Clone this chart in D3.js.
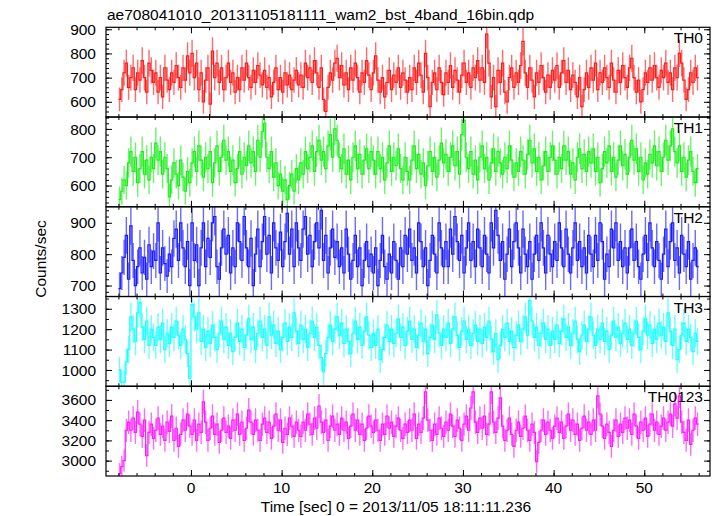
<!DOCTYPE html>
<html><head><meta charset="utf-8">
<script src="https://cdn.jsdelivr.net/npm/d3@7"></script>
<style>body{margin:0;background:#fff}svg{display:block}text{font-family:"Liberation Sans",Arial,sans-serif;fill:#000}</style>
</head><body><svg id="c" width="717" height="516"></svg>
<script>
const title = "ae708041010_20131105181111_wam2_bst_4band_16bin.qdp";
const xLabel = "Time [sec] 0 = 2013/11/05 18:11:11.236";
const yLabel = "Counts/sec";
const panelNames = ["TH0","TH1","TH2","TH3","TH0123"];
const panelColors = ["#ff1a1a","#1aee1a","#1a1aff","#1affff","#ff1aff"];
const tStart = -8, binSec = 0.25;
const xMajorTicks = [0,10,20,30,40,50];
const yMajorTicks = [[600,700,800,900],[600,700,800],[700,800,900],[1000,1100,1200,1300],[3000,3200,3400,3600]];
const yMinorStep = [20,20,20,50,100];
const yDomains = [[537,908],[525,842],[665,951],[920,1360],[2848,3735]];

const th0 = [
610,650,720,760,660,700,740,650,720,690,770,700,640,760,730,680,
720,640,700,620,740,690,650,720,680,750,700,660,740,690,790,720,
800,700,760,650,720,600,690,740,590,810,700,760,680,740,650,700,
760,680,720,640,700,650,740,690,760,700,660,730,680,750,710,670,
730,660,700,620,680,740,650,700,640,720,670,710,650,690,730,670,
710,660,760,700,740,680,770,720,660,740,610,560,660,720,690,760,
780,700,750,670,720,650,740,690,760,700,640,720,680,770,710,650,
720,790,690,640,700,620,680,730,650,710,680,740,660,720,690,640,
700,650,740,680,760,710,640,800,700,580,680,720,650,740,680,630,
720,680,750,660,730,690,640,710,760,680,720,660,740,700,770,690,
740,680,880,760,620,700,580,730,680,760,640,600,700,740,660,720,
680,750,850,720,660,740,690,620,720,680,750,700,640,710,660,730,
690,750,660,720,770,680,730,650,710,680,620,700,580,650,720,660,
740,690,760,650,720,680,740,700,660,760,690,640,730,680,750,700,
660,740,780,700,640,690,600,650,720,680,740,690,750,700,660,730,
700,760,680,720,650,740,700,800,760,690,610,650,720,680,740,700];
const th1 = [
550,580,620,600,680,720,650,700,610,660,720,640,690,620,700,660,
750,690,720,640,700,660,560,620,680,640,600,690,630,580,650,610,
680,720,650,740,690,630,700,660,720,610,680,740,650,700,760,690,
720,650,690,610,660,720,640,700,670,740,680,720,650,760,700,790,
820,700,660,720,630,680,600,640,580,620,550,600,640,580,660,620,
680,640,720,660,700,740,650,720,760,690,720,660,740,780,700,800,
760,700,660,730,640,690,620,700,740,660,710,640,690,730,660,720,
690,640,720,660,700,620,680,740,650,700,670,730,660,620,700,650,
620,690,740,660,710,640,680,600,670,720,650,700,630,690,750,680,
710,650,700,740,670,720,640,780,830,700,660,720,640,690,620,700,
740,660,700,620,680,730,650,720,680,640,700,660,740,690,630,680,
650,720,690,640,710,760,680,730,650,700,620,670,720,650,700,740,
690,640,700,660,740,690,720,640,680,620,700,730,660,710,650,720,
680,730,650,700,610,660,720,680,740,650,700,630,690,740,670,710,
640,700,760,690,730,650,700,620,680,640,710,680,740,670,720,650,
700,760,690,740,800,720,680,740,650,700,630,690,720,650,610,660];
const th2 = [
690,740,790,860,720,890,780,700,760,820,740,790,720,830,760,810,
780,900,740,820,770,730,800,760,850,880,780,900,820,760,840,700,
900,780,830,700,820,900,760,850,790,900,920,760,720,820,880,800,
860,740,820,760,900,840,780,920,820,760,850,700,800,880,760,840,
920,800,860,740,900,820,780,870,760,840,930,800,880,760,900,820,
780,880,920,800,860,760,840,900,820,940,780,860,740,820,880,790,
840,760,820,740,880,800,720,780,860,760,820,700,780,840,760,800,
740,820,700,780,860,760,720,800,740,840,780,720,820,760,860,800,
880,780,820,740,900,840,760,820,700,780,860,800,740,900,820,760,
840,760,880,800,920,840,780,860,740,820,900,780,840,760,880,820,
760,860,800,740,900,820,940,860,780,840,720,800,880,760,840,900,
820,740,880,800,760,840,720,800,860,780,900,820,740,860,800,760,
840,780,900,820,760,880,800,740,820,900,780,840,760,820,740,860,
800,760,860,780,900,840,720,800,760,880,820,900,780,840,760,820,
740,820,880,780,840,760,720,800,860,780,900,820,760,840,780,720,
800,880,760,840,900,780,820,740,860,800,760,840,720,780,820,760];
const th3 = [
1000,940,940,1040,1100,1260,1200,1140,1280,1330,1210,1150,1240,1120,1200,1160,
1120,1210,1150,1230,1100,1180,1130,1210,1160,1240,1170,1120,1200,1150,1080,960,
1320,1260,1200,1280,1140,1200,1110,1190,1130,1220,1160,1100,1180,1240,1150,1210,
1120,1180,1090,1160,1230,1140,1200,1110,1170,1250,1150,1210,1100,1180,1240,1160,
1200,1120,1260,1170,1220,1130,1190,1100,1160,1230,1140,1210,1160,1280,1190,1130,
1220,1150,1200,1110,1180,1240,1160,1210,1120,1060,990,1080,1160,1220,1140,1200,
1260,1170,1230,1130,1200,1140,1080,1180,1240,1150,1210,1120,1190,1260,1170,1110,
1180,1120,1200,1050,1100,1160,1220,1140,1200,1130,1180,1250,1160,1210,1120,1190,
1240,1150,1200,1110,1170,1230,1140,1200,1080,1160,1220,1150,1270,1180,1120,1200,
1160,1230,1130,1200,1260,1170,1110,1190,1240,1150,1200,1120,1180,1220,1140,1200,
1130,1210,1160,1240,1150,1090,1180,1050,1120,1200,1160,1230,1140,1190,1110,1170,
1220,1140,1200,1260,1170,1340,1240,1160,1210,1120,1180,1230,1150,1200,1120,1190,
1150,1220,1130,1190,1250,1160,1210,1120,1180,1240,1150,1090,1170,1220,1140,1200,
1260,1170,1120,1200,1150,1230,1140,1190,1100,1170,1240,1160,1210,1130,1180,1230,
1150,1200,1120,1180,1240,1160,1100,1190,1250,1170,1220,1130,1200,1150,1230,1170,
1210,1140,1280,1190,1120,1200,1050,1100,1170,1230,1140,1200,1160,1090,1180,1140];
const th0123 = [
2870,2940,3000,3300,3380,3300,3420,3280,3480,3360,3240,3400,3050,3280,3360,3220,
3300,3420,3260,3340,3200,3380,3290,3440,3200,3320,3140,3260,3400,3300,3460,3340,
3260,3400,3200,3360,3280,3580,3380,3200,3320,3440,3260,3360,3180,3300,3420,3280,
3340,3220,3400,3300,3460,3260,3380,3200,3320,3500,3380,3260,3400,3300,3200,3360,
3420,3280,3380,3220,3340,3460,3300,3400,3180,3320,3260,3420,3340,3240,3380,3300,
3240,3380,3300,3460,3360,3260,3420,3320,3540,3380,3280,3400,3200,3340,3440,3300,
3360,3260,3420,3300,3380,3220,3340,3460,3300,3400,3260,3360,3200,3320,3440,3340,
3280,3400,3300,3200,3360,3260,3440,3320,3380,3240,3340,3420,3300,3220,3360,3280,
3400,3300,3460,3220,3360,3280,3420,3680,3400,3300,3200,3360,3260,3420,3320,3240,
3380,3300,3460,3340,3240,3400,3320,3200,3360,3440,3300,3520,3680,3380,3280,3420,
3320,3440,3260,3360,3680,3380,3280,3420,3620,3340,3200,3300,3420,3260,3140,3300,
3380,3240,3320,3440,3300,3200,3360,3280,2990,3180,3300,3400,3260,3380,3300,3220,
3340,3420,3280,3380,3220,3340,3460,3300,3400,3260,3360,3200,3320,3440,3300,3380,
3260,3400,3300,3640,3460,3340,3220,3360,3280,3140,3300,3400,3240,3360,3280,3420,
3320,3400,3260,3460,3340,3220,3380,3300,3420,3240,3360,3460,3300,3380,3260,3340,
3420,3300,3380,3460,3340,3560,3420,3640,3380,3280,3200,3400,3160,3300,3420,3360];
const series = [th0, th1, th2, th3, th0123];

// layout
const L = 106, R = 710, TOP = 27.3, PH = 89.74;
const svg = d3.select("#c");
const x = d3.scaleLinear().domain([-9.37, 57.25]).range([L, R]);
const xMinor = d3.range(-8, 57, 2);

svg.append("text").attr("x", 107).attr("y", 20).style("font-size","15.5px").text(title);

series.forEach((vals, p) => {
  const top = TOP + p*PH, bot = top + PH;
  const y = d3.scaleLinear().domain(yDomains[p]).range([bot, top]);
  const g = svg.append("g");
  const col = panelColors[p];
  const clipId = "clip"+p;
  svg.append("clipPath").attr("id", clipId).append("rect").attr("x", L).attr("y", top).attr("width", R-L).attr("height", PH);
  const dg = g.append("g").attr("clip-path", `url(#${clipId})`);
  const pts = vals.map((v,i) => ({t: tStart + i*binSec, v}));
  const err = v => Math.sqrt(v*binSec)/binSec;
  dg.selectAll("line.err").data(pts).join("line")
    .attr("x1", d => x(d.t + binSec/2)).attr("x2", d => x(d.t + binSec/2))
    .attr("y1", d => y(d.v - err(d.v))).attr("y2", d => y(d.v + err(d.v)))
    .attr("stroke", col).attr("stroke-opacity", 0.65).attr("stroke-width", 1.4);
  const stepPts = pts.concat([{t: tStart + vals.length*binSec, v: vals[vals.length-1]}]);
  dg.append("path").datum(stepPts)
    .attr("d", d3.line().x(d => x(d.t)).y(d => y(d.v)).curve(d3.curveStepAfter))
    .attr("fill","none").attr("stroke", col).attr("stroke-width", 1.2);

  g.append("rect").attr("x", L).attr("y", top).attr("width", R-L).attr("height", PH)
    .attr("fill","none").attr("stroke","#000").attr("stroke-width",1.2);

  const minor = d3.range(Math.ceil(yDomains[p][0]/yMinorStep[p])*yMinorStep[p], yDomains[p][1], yMinorStep[p]);
  const axStyle = sel => { sel.select(".domain").remove(); sel.selectAll(".tick line").attr("stroke","#000"); };
  g.append("g").attr("transform",`translate(${L},0)`).call(d3.axisLeft(y).tickValues(minor).tickSize(-3).tickFormat("")).call(axStyle);
  g.append("g").attr("transform",`translate(${R},0)`).call(d3.axisRight(y).tickValues(minor).tickSize(-3).tickFormat("")).call(axStyle);
  g.append("g").attr("transform",`translate(${L},0)`).call(d3.axisLeft(y).tickValues(yMajorTicks[p]).tickSize(-6).tickFormat("")).call(axStyle);
  g.append("g").attr("transform",`translate(${R},0)`).call(d3.axisRight(y).tickValues(yMajorTicks[p]).tickSize(-6).tickFormat("")).call(axStyle);
  yMajorTicks[p].forEach(v => {
    g.append("text").attr("x", 96).attr("y", y(v)).attr("dy","0.36em").attr("text-anchor","end").style("font-size","15.5px").text(v);
  });
  g.append("g").attr("transform",`translate(0,${bot})`).call(d3.axisBottom(x).tickValues(xMinor).tickSize(-3).tickFormat("")).call(axStyle);
  g.append("g").attr("transform",`translate(0,${top})`).call(d3.axisTop(x).tickValues(xMinor).tickSize(-3).tickFormat("")).call(axStyle);
  g.append("g").attr("transform",`translate(0,${bot})`).call(d3.axisBottom(x).tickValues(xMajorTicks).tickSize(-6).tickFormat("")).call(axStyle);
  g.append("g").attr("transform",`translate(0,${top})`).call(d3.axisTop(x).tickValues(xMajorTicks).tickSize(-6).tickFormat("")).call(axStyle);

  g.append("text").attr("x", 703).attr("y", top + 16).attr("text-anchor","end").style("font-size","15.5px").text(panelNames[p]);

  if (p === series.length-1) {
    xMajorTicks.forEach(t => {
      g.append("text").attr("x", x(t)).attr("y", bot + 17).attr("text-anchor","middle").style("font-size","15.5px").text(t);
    });
  }
});

svg.append("text").attr("x", 396).attr("y", 512).attr("text-anchor","middle").style("font-size","15.5px").text(xLabel);
svg.append("text").attr("transform","translate(46,259) rotate(-90)").attr("text-anchor","middle").style("font-size","15.5px").text(yLabel);
</script></body></html>
